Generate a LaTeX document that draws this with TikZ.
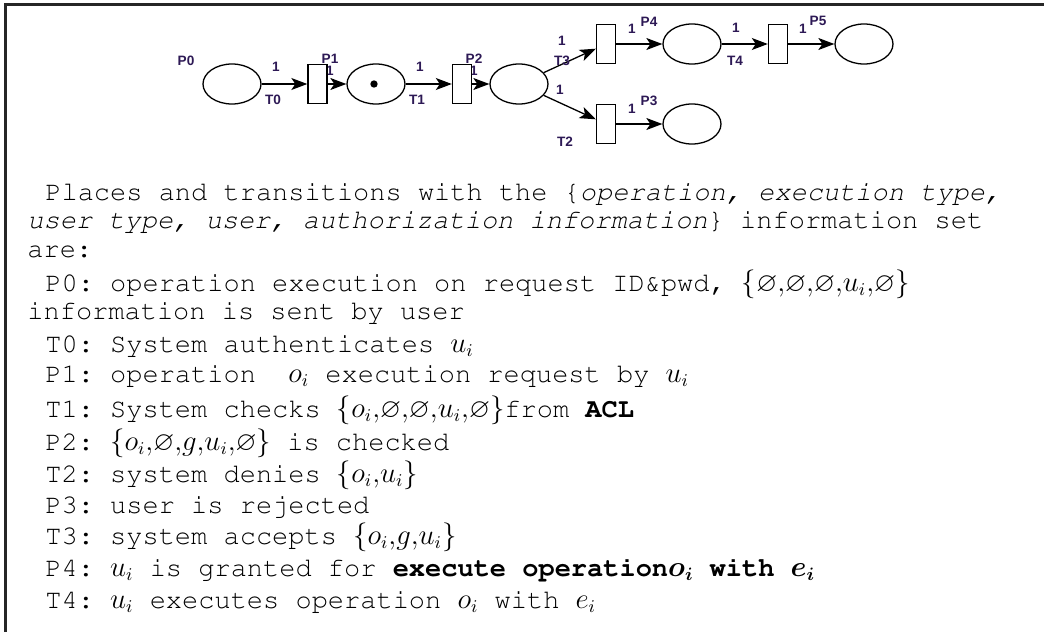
\documentclass[tikz,border=0pt]{standalone}
\usepackage{amsmath,amssymb}
\usepackage[T1]{fontenc}
\usepackage{fontspec}
\setsansfont{Liberation Sans}
\usepackage{tikz}
\usetikzlibrary{arrows.meta, shapes}
\newcommand{\courier}{\fontencoding{T1}\fontfamily{pcr}\selectfont\frenchspacing}
\definecolor{labelnavy}{RGB}{45, 25, 85}
\tikzset{>={Stealth[length=8pt,width=6pt,inset=2pt]}}
\tikzset{place/.style={draw, ellipse, line width=0.65pt, minimum width=29pt, minimum height=20pt, inner sep=0pt},
  trans/.style={draw, rectangle, fill=white, line width=0.7pt, minimum width=9.5pt, minimum height=19.5pt, inner sep=0pt},
  arc/.style={->, line width=0.65pt},
  lbl/.style={font=\sffamily\bfseries\fontsize{6.8}{7}\selectfont, text=labelnavy, inner sep=0pt},
  txt/.style={anchor=base west, inner sep=0pt, font=\courier\fontsize{13.5}{16}\selectfont}}

\begin{document}
\begin{tikzpicture}[x=0.5pt, y=-0.5pt]
\useasboundingbox (0,0) rectangle (1044,632);
\draw[line width=1.25pt, black!85] (5.3,632) |- (1044,4.3);
\node[lbl] (w1b) at (330, 71) {1};
\node[lbl] (w2b) at (474, 71) {1};
\node[place] (P0) at (232, 84) {};
\node[place] (P1) at (376, 84) {};
\node[place] (P2) at (519, 84) {};
\node[place] (P3) at (692, 124) {};
\node[place] (P4) at (692, 44) {};
\node[place] (P5) at (864, 44) {};
\node[trans] (T0) at (317.5, 84) {};
\node[trans] (T1) at (462, 84) {};
\node[trans] (T2) at (606, 124) {};
\node[trans] (T3) at (606, 44) {};
\node[trans] (T4) at (778, 44) {};
\node[circle, fill, inner sep=1.3pt] (tok) at (374, 84) {};
\draw[arc] (P0) -- (T0);
\draw[arc] (T0) -- (P1);
\draw[arc] (P1) -- (T1);
\draw[arc] (T1) -- (P2);
\draw[arc] (P2) -- (T3);
\draw[arc] (P2) -- (T2);
\draw[arc] (T3) -- (P4);
\draw[arc] (T2) -- (P3);
\draw[arc] (P4) -- (T4);
\draw[arc] (T4) -- (P5);
\node[lbl] (nP0) at (186, 61) {P0};
\node[lbl] (nP1) at (330, 59) {P1};
\node[lbl] (nP2) at (474, 59) {P2};
\node[lbl] (nP3) at (649, 101) {P3};
\node[lbl] (nP4) at (649, 22) {P4};
\node[lbl] (nP5) at (818, 21) {P5};
\node[lbl] (nT0) at (273, 100) {T0};
\node[lbl] (nT1) at (417, 100) {T1};
\node[lbl] (nT2) at (565, 142) {T2};
\node[lbl] (nT3) at (562, 61) {T3};
\node[lbl] (nT4) at (735, 61) {T4};
\node[lbl] (w0) at (276, 67) {1};
\node[lbl] (w1) at (420, 67) {1};
\node[lbl] (w2) at (562, 41) {1};
\node[lbl] (w3) at (560, 90) {1};
\node[lbl] (w4) at (632, 29) {1};
\node[lbl] (w5) at (632, 109) {1};
\node[lbl] (w6) at (736, 28) {1};
\node[lbl] (w7) at (803, 29) {1};
\node[txt] (intro1) at (45, 200) {Places and transitions with the \{\textit{operation, execution type,}};
\node[txt] (intro2) at (27, 228) {\textit{user type, user, authorization information}\} information set};
\node[txt] (intro3) at (27, 257) {are:};
\node[txt] (dP0a) at (45, 291) {P0: operation execution on request ID\&pwd, $\{\varnothing{,}\varnothing{,}\varnothing{,}u_i{,}\varnothing\}$};
\node[txt] (dP0b) at (27, 319) {information is sent by user};
\node[txt] (dT0) at (45, 352) {T0: System authenticates $u_i$};
\node[txt] (dP1) at (45, 382) {P1: operation \ $o_i$ execution request by $u_i$};
\node[txt] (dT1) at (45, 417) {T1: System checks $\{o_i{,}\varnothing{,}\varnothing{,}u_i{,}\varnothing\}$from \textbf{ACL}};
\node[txt] (dP2) at (45, 450) {P2: $\{o_i{,}\varnothing{,}g{,}u_i{,}\varnothing\}$ is checked};
\node[txt] (dT2) at (45, 482) {T2: system denies $\{o_i{,}u_i\}$};
\node[txt] (dP3) at (45, 513) {P3: user is rejected};
\node[txt] (dT3) at (45, 544) {T3: system accepts $\{o_i{,}g{,}u_i\}$};
\node[txt] (dP4) at (45, 576) {P4: $u_i$ is granted for \textbf{execute operation}$\boldsymbol{o_i}$\textbf{ with }$\boldsymbol{e_i}$};
\node[txt] (dT4) at (45, 608) {T4: $u_i$ executes operation $o_i$ with $e_i$};
\end{tikzpicture}
\end{document}
